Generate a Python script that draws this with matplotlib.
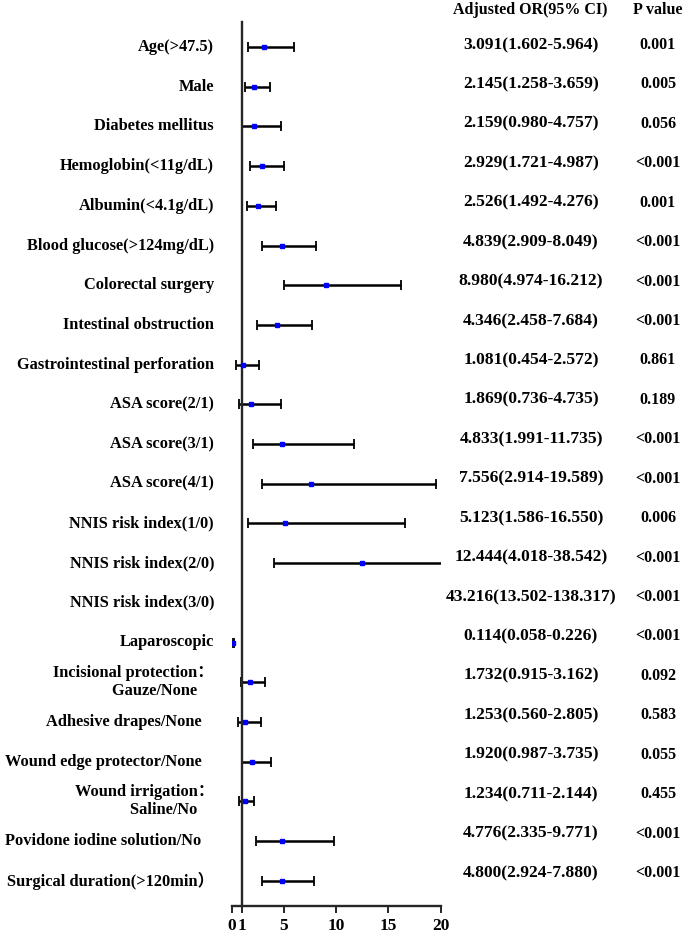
import matplotlib
matplotlib.use("Agg")
import matplotlib.pyplot as plt
from matplotlib.transforms import blended_transform_factory

plt.rcParams['font.family'] = ['Liberation Serif', 'Noto Sans CJK SC']
plt.rcParams['font.weight'] = 'bold'

labels = [
    "Age(>47.5)", "Male", "Diabetes mellitus", "Hemoglobin(<11g/dL)",
    "Albumin(<4.1g/dL)", "Blood glucose(>124mg/dL)", "Colorectal surgery",
    "Intestinal obstruction", "Gastrointestinal perforation", "ASA score(2/1)",
    "ASA score(3/1)", "ASA score(4/1)", "NNIS risk index(1/0)",
    "NNIS risk index(2/0)", "NNIS risk index(3/0)", "Laparoscopic",
    "Incisional protection：\nGauze/None    ", "Adhesive drapes/None   ",
    "Wound edge protector/None   ", "Wound irrigation：\nSaline/No    ",
    "Povidone iodine solution/No   ", "Surgical duration(>120min）",
]
or_vals = [3.091, 2.145, 2.159, 2.929, 2.526, 4.839, 8.980, 4.346, 1.081, 1.869,
           4.833, 7.556, 5.123, 12.444, 43.216, 0.114, 1.732, 1.253, 1.920, 1.234,
           4.776, 4.800]
lo_vals = [1.602, 1.258, 0.980, 1.721, 1.492, 2.909, 4.974, 2.458, 0.454, 0.736,
           1.991, 2.914, 1.586, 4.018, 13.502, 0.058, 0.915, 0.560, 0.987, 0.711,
           2.335, 2.924]
hi_vals = [5.964, 3.659, 4.757, 4.987, 4.276, 8.049, 16.212, 7.684, 2.572, 4.735,
           11.735, 19.589, 16.550, 38.542, 138.317, 0.226, 3.162, 2.805, 3.735, 2.144,
           9.771, 7.880]
p_labels = ["0.001", "0.005", "0.056", "<0.001", "0.001", "<0.001", "<0.001",
            "<0.001", "0.861", "0.189", "<0.001", "<0.001", "0.006", "<0.001",
            "<0.001", "<0.001", "0.092", "0.583", "0.055", "0.455", "<0.001",
            "<0.001"]
x_ticks = [0, 1, 5, 10, 15, 20]
x_max = 20

W, H = 685, 934
fig = plt.figure(figsize=(W / 100, H / 100), dpi=100)
ax = fig.add_axes([231.7 / W, 1 - 906 / H, 209 / W, (906 - 22) / H])

row0, step = 47, 39.7
n = len(labels)
rows = list(range(n))
ax.set_xlim(0, x_max)
ax.set_ylim((906 - row0) / step, (22 - row0) / step)

for r in rows:
    o, lo, hi = or_vals[r], lo_vals[r], hi_vals[r]
    if o > x_max:
        continue
    ax.errorbar([o], [r], xerr=[[o - lo], [hi - o]], fmt='none', ecolor='black',
                elinewidth=1.8, capsize=3.5, capthick=1.3, zorder=2)
    ax.plot([o], [r], marker='s', ms=3, color='#0000ff', mec='#0000ff', zorder=3,
            linestyle='none')

for s in ['top', 'right']:
    ax.spines[s].set_visible(False)
ax.spines['left'].set_position(('data', 1))
ax.spines['left'].set_linewidth(1.7)
ax.spines['left'].set_color('#262626')
ax.spines['bottom'].set_linewidth(1.7)
ax.spines['bottom'].set_color('#262626')
ax.set_yticks([])
ax.set_xticks(x_ticks)
ax.set_xticklabels([str(t) for t in x_ticks], fontsize=12.5, fontweight='bold')
ax.tick_params(axis='x', length=5, width=1.4, color='#262626', pad=3.3)

trans = blended_transform_factory(fig.transFigure, ax.transData)
for r in rows:
    ax.text(214 / W, r, labels[r], transform=trans, ha='right', va='center',
            fontsize=11.8, fontweight='bold', multialignment='right',
            linespacing=1.15, clip_on=False)

txt_step = (873 - 45) / 21
for r in rows:
    y = 1 - (45 + r * txt_step) / H
    s = f"{or_vals[r]:.3f}({lo_vals[r]:.3f}-{hi_vals[r]:.3f})"
    fig.text(531 / W, y, s, ha='center', va='center', fontsize=12.6, fontweight='bold')
    fig.text(658 / W, y, p_labels[r], ha='center', va='center', fontsize=11.5,
             fontweight='bold')

fig.text(530 / W, 1 - 10 / H, "Adjusted OR(95% CI)", ha='center', va='center',
         fontsize=11.5, fontweight='bold')
fig.text(658 / W, 1 - 10 / H, "P value", ha='center', va='center',
         fontsize=11.5, fontweight='bold')

fig.savefig("out.png", dpi=100, facecolor='white')
